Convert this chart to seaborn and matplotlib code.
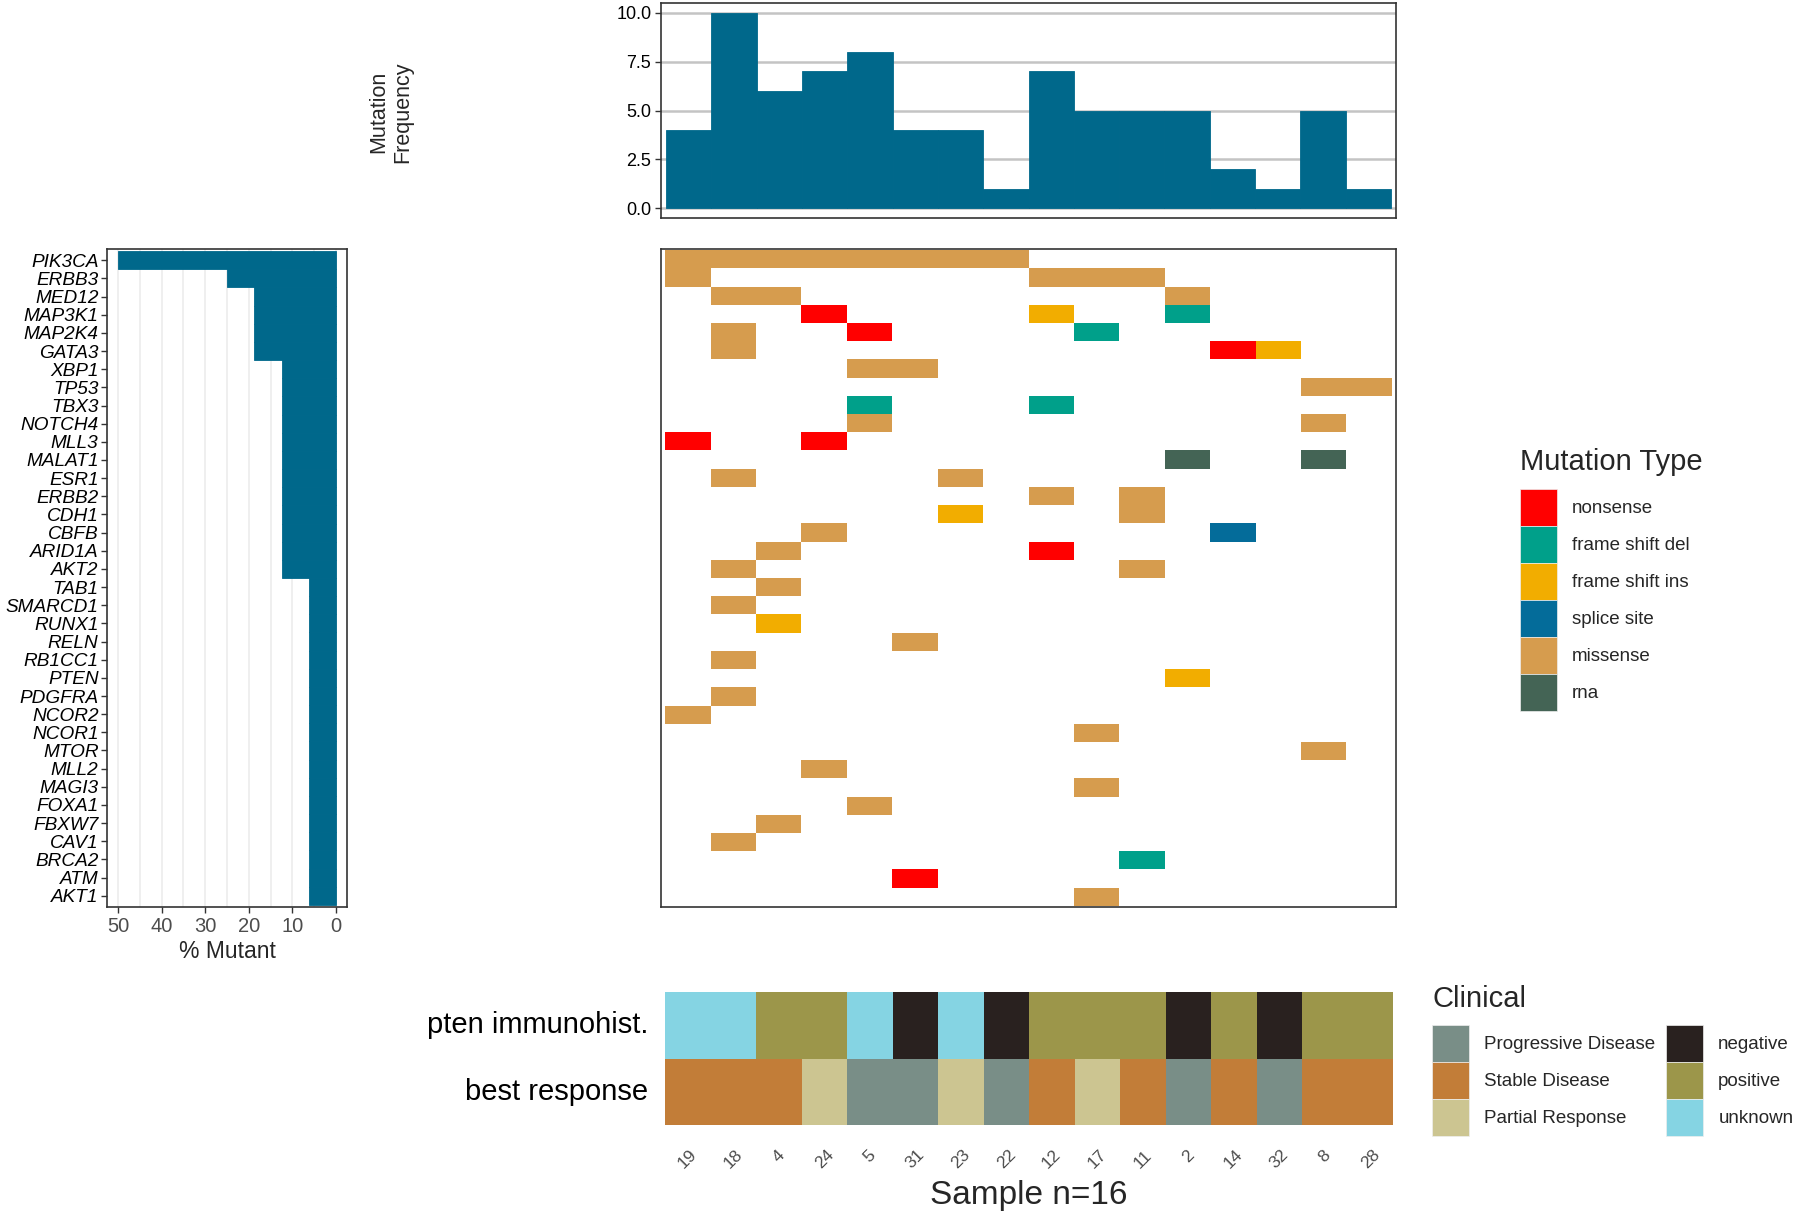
import numpy as np
import pandas as pd
import matplotlib
matplotlib.use("Agg")
import matplotlib.pyplot as plt
from matplotlib.colors import ListedColormap
from matplotlib.patches import Patch
import seaborn as sns

# samples in plot order and total mutation frequency per sample (top panel)
samples = ["19", "18", "4", "24", "5", "31", "23", "22", "12", "17", "11", "2", "14", "32", "8", "28"]
mutation_freq = [4, 10, 6, 7, 8, 4, 4, 1, 7, 5, 5, 5, 2, 1, 5, 1]

genes = ["PIK3CA", "ERBB3", "MED12", "MAP3K1", "MAP2K4", "GATA3", "XBP1", "TP53", "TBX3",
         "NOTCH4", "MLL3", "MALAT1", "ESR1", "ERBB2", "CDH1", "CBFB", "ARID1A", "AKT2",
         "TAB1", "SMARCD1", "RUNX1", "RELN", "RB1CC1", "PTEN", "PDGFRA", "NCOR2", "NCOR1",
         "MTOR", "MLL2", "MAGI3", "FOXA1", "FBXW7", "CAV1", "BRCA2", "ATM", "AKT1"]
pct_mutant = [50, 25, 18.75, 18.75, 18.75, 18.75, 12.5, 12.5, 12.5,
              12.5, 12.5, 12.5, 12.5, 12.5, 12.5, 12.5, 12.5, 12.5,
              6.25, 6.25, 6.25, 6.25, 6.25, 6.25, 6.25, 6.25, 6.25,
              6.25, 6.25, 6.25, 6.25, 6.25, 6.25, 6.25, 6.25, 6.25]

# one entry per mutation
mut_gene = ["PIK3CA"] * 8 + ["ERBB3"] * 4 + ["MED12"] * 3 + ["MAP3K1"] * 3 + ["MAP2K4"] * 3 + \
           ["GATA3"] * 3 + ["XBP1"] * 2 + ["TP53"] * 2 + ["TBX3"] * 2 + ["NOTCH4"] * 2 + \
           ["MLL3"] * 2 + ["MALAT1"] * 2 + ["ESR1"] * 2 + ["ERBB2"] * 2 + ["CDH1"] * 2 + \
           ["CBFB"] * 2 + ["ARID1A"] * 2 + ["AKT2"] * 2 + \
           ["TAB1", "SMARCD1", "RUNX1", "RELN", "RB1CC1", "PTEN", "PDGFRA", "NCOR2", "NCOR1",
            "MTOR", "MLL2", "MAGI3", "FOXA1", "FBXW7", "CAV1", "BRCA2", "ATM", "AKT1"]
mut_sample = ["19", "18", "4", "24", "5", "31", "23", "22",
              "19", "12", "17", "11",
              "18", "4", "2",
              "24", "12", "2",
              "18", "5", "17",
              "18", "14", "32",
              "5", "31",
              "8", "28",
              "5", "12",
              "5", "8",
              "19", "24",
              "2", "8",
              "18", "23",
              "12", "11",
              "23", "11",
              "24", "14",
              "4", "12",
              "18", "11",
              "4", "18", "4", "31", "18", "2", "18", "19", "17",
              "8", "24", "17", "5", "4", "18", "11", "31", "17"]
mut_type = ["missense"] * 8 + ["missense"] * 4 + ["missense"] * 3 + \
           ["nonsense", "frame shift ins", "frame shift del"] + \
           ["missense", "nonsense", "frame shift del"] + \
           ["missense", "nonsense", "frame shift ins"] + \
           ["missense", "missense"] + ["missense", "missense"] + \
           ["frame shift del", "frame shift del"] + ["missense", "missense"] + \
           ["nonsense", "nonsense"] + ["rna", "rna"] + ["missense", "missense"] + \
           ["missense", "missense"] + ["frame shift ins", "missense"] + \
           ["missense", "splice site"] + ["missense", "nonsense"] + ["missense", "missense"] + \
           ["missense", "missense", "frame shift ins", "missense", "missense", "frame shift ins",
            "missense", "missense", "missense", "missense", "missense", "missense", "missense",
            "missense", "missense", "frame shift del", "nonsense", "missense"]

mut_levels = ["nonsense", "frame shift del", "frame shift ins", "splice site", "missense", "rna"]
mut_colors = ["#FF0000", "#00A08A", "#F2AD00", "#046C9A", "#D69C4E", "#446455"]

pten_ihc = ["unknown", "unknown", "positive", "positive", "unknown", "negative", "unknown", "negative",
            "positive", "positive", "positive", "negative", "positive", "negative", "positive", "positive"]
best_response = ["Stable Disease", "Stable Disease", "Stable Disease", "Partial Response",
                 "Progressive Disease", "Progressive Disease", "Partial Response", "Progressive Disease",
                 "Stable Disease", "Partial Response", "Stable Disease", "Progressive Disease",
                 "Stable Disease", "Progressive Disease", "Stable Disease", "Stable Disease"]
clin_levels = ["Progressive Disease", "Stable Disease", "Partial Response", "negative", "positive", "unknown"]
clin_colors = ["#798E87", "#C27D38", "#CCC591", "#29211F", "#9C964A", "#85D4E3"]

bar_color = "#00688B"
frame_color = "#333333"

sns.set_theme(style="white")
plt.rcParams["font.family"] = ["Liberation Sans", "DejaVu Sans"]

W, H = 1800, 1211
fig = plt.figure(figsize=(W / 100, H / 100), dpi=100)


def box(x0, y0, x1, y1):
    return [x0 / W, 1 - y1 / H, (x1 - x0) / W, (y1 - y0) / H]


def frame(ax):
    for sp in ax.spines.values():
        sp.set_visible(True)
        sp.set_color(frame_color)
        sp.set_linewidth(1.2)


ax_top = fig.add_axes(box(661, 3, 1396, 218))
ax_left = fig.add_axes(box(107, 249, 347, 907))
ax_main = fig.add_axes(box(661, 249, 1396, 907))
ax_clin = fig.add_axes(box(665, 992, 1393, 1125))

# top: mutation frequency per sample
freq_df = pd.DataFrame({"sample": samples, "freq": mutation_freq})
sns.barplot(data=freq_df, x="sample", y="freq", order=samples, color=bar_color, saturation=1,
            width=1, linewidth=0.6, edgecolor=bar_color, ax=ax_top)
ax_top.set_xlim(-0.61, 15.61)
ax_top.set_ylim(-0.5, 10.5)
ax_top.set_yticks([0, 2.5, 5, 7.5, 10])
ax_top.set_yticklabels(["0.0", "2.5", "5.0", "7.5", "10.0"])
ax_top.set_xticks([])
ax_top.set_xlabel("")
ax_top.set_ylabel("")
ax_top.yaxis.grid(True, color="#C4C4C4", lw=1.8)
ax_top.set_axisbelow(True)
ax_top.tick_params(axis="y", left=True, length=4, width=1, color=frame_color, labelsize=13, labelcolor="black", pad=3)
frame(ax_top)
fig.text(391 / W, 1 - 112 / H, "Mutation\nFrequency", rotation=90, ha="center", va="center",
         fontsize=15.5, multialignment="center")

# left: percent mutant per gene
pct_df = pd.DataFrame({"gene": genes, "pct": pct_mutant})
sns.barplot(data=pct_df, x="pct", y="gene", order=genes, orient="h", color=bar_color, saturation=1,
            width=1, linewidth=0.6, edgecolor=bar_color, ax=ax_left)
ax_left.set_xlim(52.5, -2.5)
ax_left.set_ylim(35.62, -0.62)
ax_left.set_xticks([50, 40, 30, 20, 10, 0])
ax_left.set_xticks([45, 35, 25, 15, 5], minor=True)
ax_left.xaxis.grid(True, which="both", color="#EBEBEB", lw=1.1)
ax_left.set_axisbelow(True)
ax_left.set_xlabel("% Mutant", fontsize=16.5, labelpad=3)
ax_left.set_ylabel("")
ax_left.tick_params(axis="x", which="major", bottom=True, length=4, width=1, color=frame_color,
                    labelsize=14.5, labelcolor="#4D4D4D", pad=3)
ax_left.tick_params(axis="x", which="minor", bottom=False)
ax_left.tick_params(axis="y", left=True, length=4, width=1, color=frame_color, labelsize=13.7,
                    labelcolor="black", pad=2)
for lab in ax_left.get_yticklabels():
    lab.set_fontstyle("italic")
frame(ax_left)

# main: mutation tiles
grid = pd.DataFrame(np.nan, index=genes, columns=samples)
for g, s, t in zip(mut_gene, mut_sample, mut_type):
    grid.loc[g, s] = mut_levels.index(t)
sns.heatmap(grid, cmap=ListedColormap(mut_colors), vmin=-0.5, vmax=5.5, cbar=False,
            linewidths=0, xticklabels=False, yticklabels=False, ax=ax_main)
ax_main.set_xlim(-0.09, 16.09)
ax_main.set_ylim(36.06, -0.06)
ax_main.set_xlabel("")
ax_main.set_ylabel("")
frame(ax_main)

# clinical tracks
clin = pd.DataFrame([[clin_levels.index(v) for v in pten_ihc],
                     [clin_levels.index(v) for v in best_response]],
                    index=["pten immunohist.", "best response"], columns=samples, dtype=float)
sns.heatmap(clin, cmap=ListedColormap(clin_colors), vmin=-0.5, vmax=5.5, cbar=False,
            linewidths=0, ax=ax_clin)
ax_clin.tick_params(axis="both", length=0)
ax_clin.tick_params(axis="y", labelsize=21, pad=12, labelcolor="black")
ax_clin.tick_params(axis="x", labelsize=12.5, pad=16, labelcolor="#4D4D4D")
plt.setp(ax_clin.get_yticklabels(), rotation=0)
plt.setp(ax_clin.get_xticklabels(), rotation=45, ha="center", va="top")
ax_clin.set_xlabel("Sample n=16", fontsize=24, labelpad=6)
ax_clin.set_ylabel("")

# legends (titles drawn as text so the gap to the keys matches)
leg_kw = dict(loc="upper left", frameon=False, fontsize=13.5, handlelength=1.97, handleheight=2.66,
              labelspacing=0, handletextpad=0.8, borderpad=0, borderaxespad=0)

mut_handles = [Patch(facecolor=c, edgecolor="#EEEEEE", lw=0.5, label=t) for t, c in zip(mut_levels, mut_colors)]
fig.legend(handles=mut_handles, bbox_to_anchor=(1520 / W, 1 - 489 / H), **leg_kw)
fig.text(1520 / W, 1 - 470 / H, "Mutation Type", fontsize=21, ha="left", va="baseline")

clin_handles = [Patch(facecolor=c, edgecolor="#EEEEEE", lw=0.5, label=t) for t, c in zip(clin_levels, clin_colors)]
fig.legend(handles=clin_handles, bbox_to_anchor=(1432 / W, 1 - 1025 / H), ncol=2, columnspacing=0.6, **leg_kw)
fig.text(1432 / W, 1 - 1007 / H, "Clinical", fontsize=21, ha="left", va="baseline")

fig.savefig("out.png", dpi=100, facecolor="white")
